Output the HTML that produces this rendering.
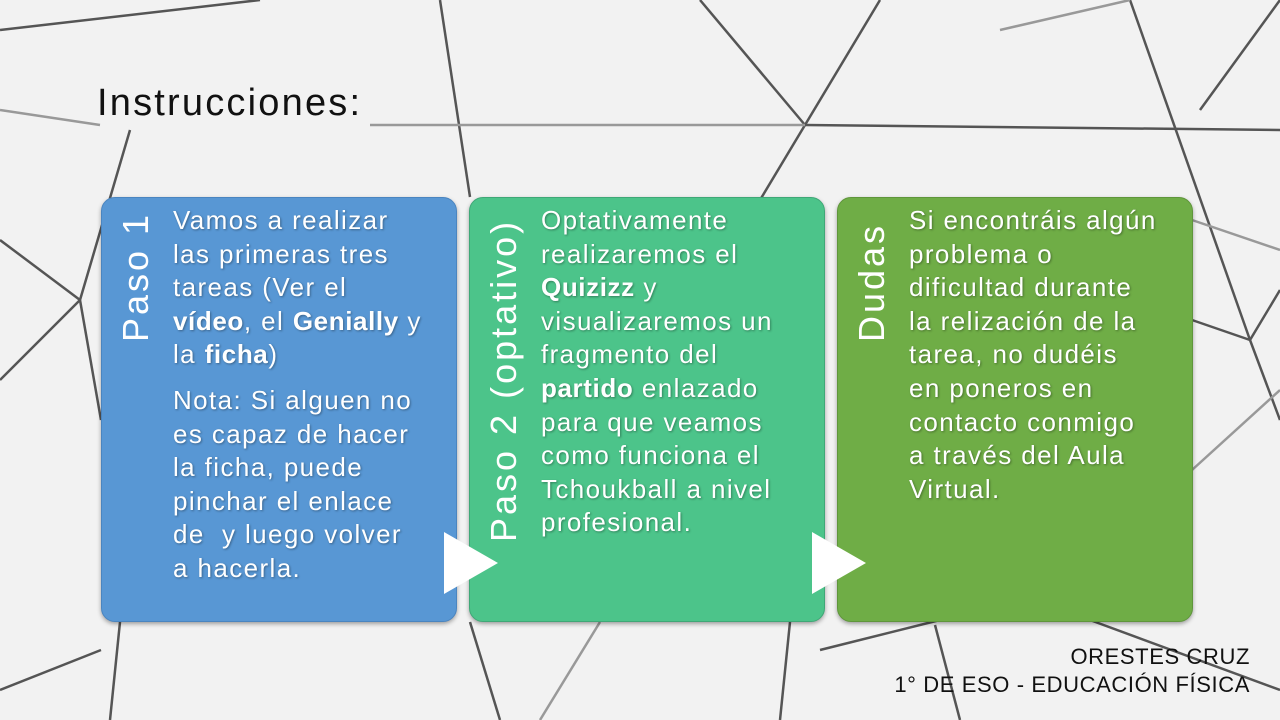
<!DOCTYPE html>
<html><head><meta charset="utf-8"><style>
body{margin:0;width:1280px;height:720px;overflow:hidden;background:#f2f2f2;font-family:"Liberation Sans",sans-serif;position:relative}
svg.bg{position:absolute;left:0;top:0}
.box{position:absolute;top:197px;width:354px;height:423px;border-radius:14px;box-shadow:0 2px 4px rgba(0,0,0,.35)}
.t{position:absolute;color:#fff;font-size:26px;letter-spacing:1.4px;white-space:nowrap;text-shadow:1px 1px 2px rgba(0,0,0,.35);line-height:33.6px}
.v{position:absolute;color:#fff;font-size:36px;letter-spacing:3px;white-space:nowrap;transform-origin:0 0;transform:rotate(-90deg)}
b{font-weight:bold;letter-spacing:0.6px}
.tri{position:absolute;width:0;height:0;border-top:31px solid transparent;border-bottom:31px solid transparent;border-left:54px solid #fff;top:532px}
.f{position:absolute;right:30px;font-size:22px;letter-spacing:0.6px;color:#111;text-align:right;white-space:nowrap}
</style></head><body>
<svg class="bg" width="1280" height="720" stroke-width="2.5" fill="none">
<g stroke="#555">
<line x1="700" y1="0" x2="805" y2="125"/>
<line x1="880" y1="0" x2="760" y2="200"/>
<line x1="805" y1="125" x2="1280" y2="130"/>
<line x1="1130" y1="0" x2="1250" y2="340"/>
<line x1="1250" y1="340" x2="1280" y2="420"/>
<line x1="1250" y1="340" x2="1280" y2="290"/>
<line x1="1250" y1="340" x2="1192" y2="320"/>
<line x1="1200" y1="110" x2="1280" y2="0"/>
<line x1="80" y1="300" x2="0" y2="240"/>
<line x1="80" y1="300" x2="0" y2="380"/>
<line x1="80" y1="300" x2="130" y2="130"/>
<line x1="80" y1="300" x2="101" y2="420"/>
<line x1="0" y1="30" x2="260" y2="0"/>
<line x1="440" y1="0" x2="470" y2="197"/>
<line x1="960" y1="720" x2="935" y2="625"/>
<line x1="1090" y1="620" x2="1280" y2="690"/>
<line x1="820" y1="650" x2="940" y2="620"/>
<line x1="780" y1="720" x2="790" y2="622"/>
<line x1="470" y1="622" x2="500" y2="720"/>
<line x1="120" y1="622" x2="110" y2="720"/>
<line x1="0" y1="690" x2="101" y2="650"/>
</g>
<g stroke="#999">
<line x1="370" y1="125" x2="805" y2="125"/>
<line x1="0" y1="110" x2="100" y2="125"/>
<line x1="1192" y1="470" x2="1280" y2="390"/>
<line x1="600" y1="622" x2="540" y2="720"/>
<line x1="1000" y1="30" x2="1130" y2="0"/>
<line x1="1192" y1="220" x2="1280" y2="250"/>
</g>
</svg>
<div style="position:absolute;left:97px;top:82px;font-size:38px;letter-spacing:2.2px;color:#111">Instrucciones:</div>

<div class="box" style="left:101px;background:#5897d4;border:1px solid #4a85c0"></div>
<div class="box" style="left:469px;background:#4cc48a;border:1px solid #3fa877"></div>
<div class="box" style="left:837px;background:#6fad46;border:1px solid #5f963b"></div>

<div class="v" style="left:115px;top:342px">Paso 1</div>
<div class="v" style="left:483px;top:542px">Paso 2 (optativo)</div>
<div class="v" style="left:851px;top:342px">Dudas</div>

<div class="t" style="left:173px;top:204px">Vamos a realizar<br>las primeras tres<br>tareas (Ver el<br><b>vídeo</b>, el <b>Genially</b> y<br>la <b>ficha</b>)</div>
<div class="t" style="left:173px;top:384px">Nota: Si alguen no<br>es capaz de hacer<br>la ficha, puede<br>pinchar el enlace<br>de &nbsp;y luego volver<br>a hacerla.</div>
<div class="t" style="left:541px;top:204px">Optativamente<br>realizaremos el<br><b>Quizizz</b> y<br>visualizaremos un<br>fragmento del<br><b>partido</b> enlazado<br>para que veamos<br>como funciona el<br>Tchoukball a nivel<br>profesional.</div>
<div class="t" style="left:909px;top:204px">Si encontráis algún<br>problema o<br>dificultad durante<br>la relización de la<br>tarea, no dudéis<br>en poneros en<br>contacto conmigo<br>a través del Aula<br>Virtual.</div>

<div class="tri" style="left:444px"></div>
<div class="tri" style="left:812px"></div>

<div class="f" style="top:644px">ORESTES CRUZ</div>
<div class="f" style="top:672px">1° DE ESO - EDUCACIÓN FÍSICA</div>
</body></html>
